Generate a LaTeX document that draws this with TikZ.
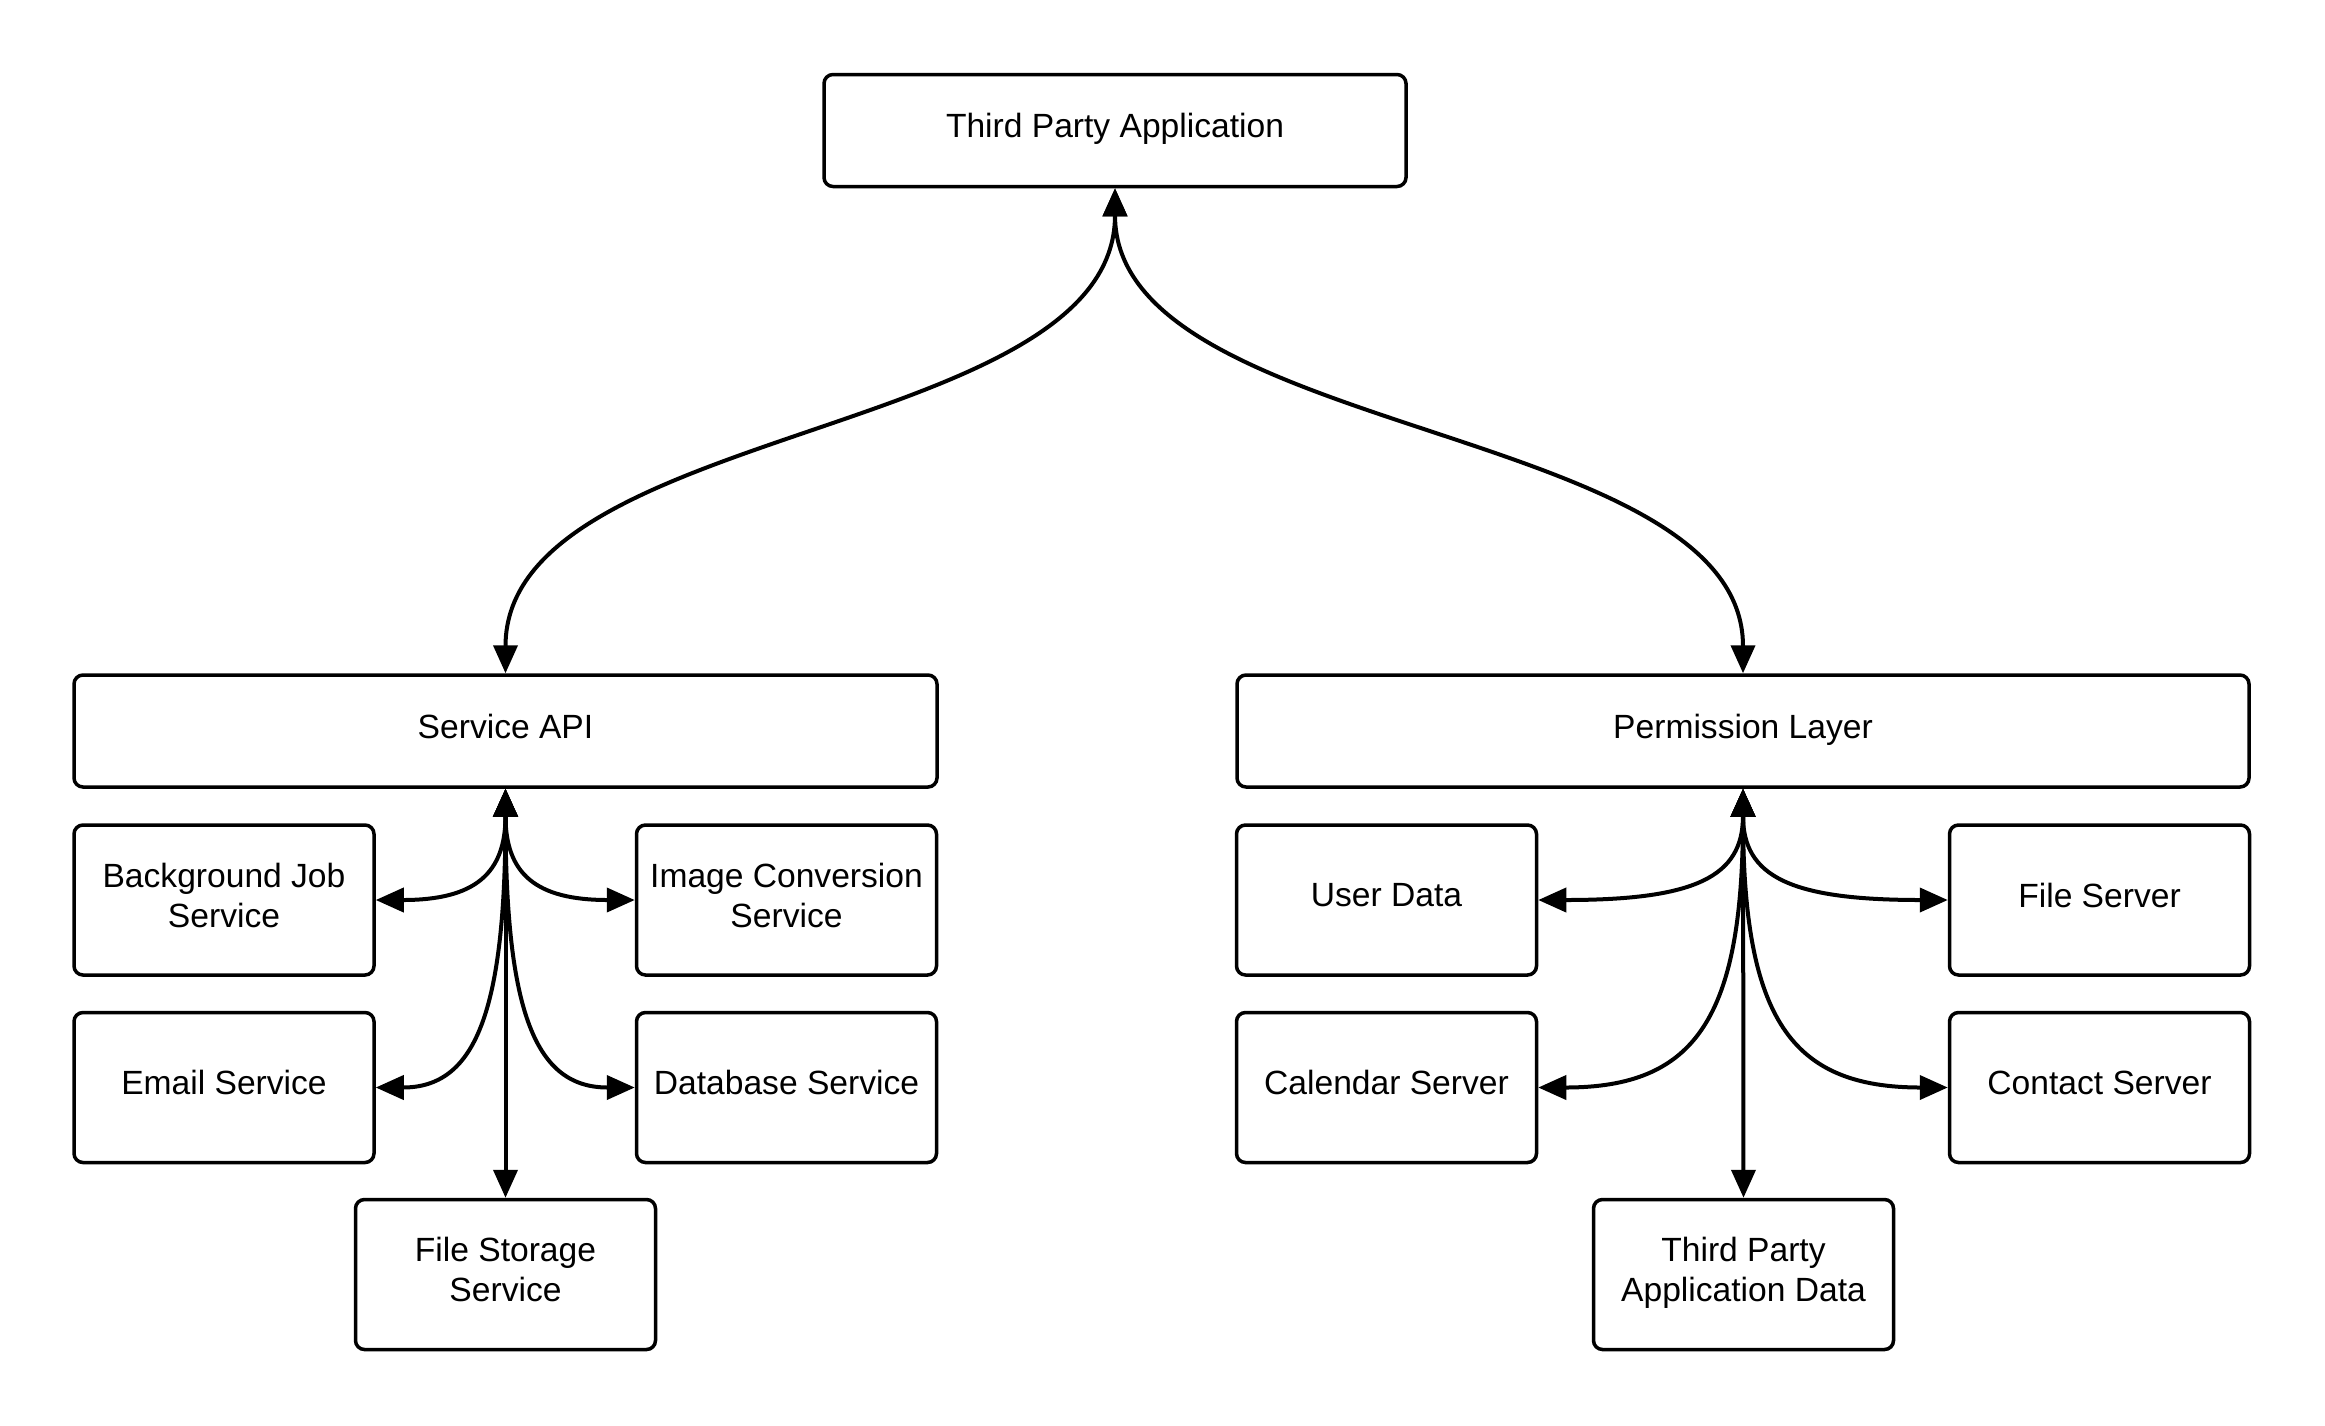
\documentclass[tikz,border=0pt]{standalone}
\usepackage{fontspec}
\setmainfont{Liberation Sans}
\usetikzlibrary{arrows.meta}
\begin{document}
\begin{tikzpicture}[x=1pt,y=-1pt,
  box/.style={draw=black, line width=3.5pt, rounded corners=9pt, fill=white,
    inner sep=0pt, align=center, text depth=10pt,
    font=\fontsize{33.6}{40}\selectfont},
  wide/.style={box, minimum height=112pt},
  small/.style={box, minimum width=300pt, minimum height=150pt},
  conn/.style={line width=4pt, {Triangle[length=28pt,width=24pt]}-{Triangle[length=28pt,width=24pt]}}]
\useasboundingbox[fill=white] (0,0) rectangle (2325,1425);

% top level
\node[wide, minimum width=582pt] (tpa) at (1115,130.5) {Third Party Application};

% second level
\node[wide, minimum width=863pt] (sapi) at (505.5,731) {Service API};
\node[wide, minimum width=1012pt] (perm) at (1743,731) {Permission Layer};

% services under the API
\node[small] (bjs) at (224,900)    {Background Job\\Service};
\node[small] (ics) at (786.5,900)  {Image Conversion\\Service};
\node[small] (ems) at (224,1087.5) {Email Service};
\node[small] (dbs) at (786.5,1087.5) {Database Service};
\node[small] (fss) at (505.5,1274.5) {File Storage\\Service};

% stores under the permission layer
\node[small] (usr) at (1386.5,900)  {User Data};
\node[small] (fsv) at (2099.5,900)  {File Server};
\node[small] (cal) at (1386.5,1087.5) {Calendar Server};
\node[small] (con) at (2099.5,1087.5) {Contact Server};
\node[small] (tpd) at (1743.5,1274.5) {Third Party\\Application Data};

% links to the application
\draw[conn] (sapi.north) .. controls +(0,-250) and +(0,250) .. (tpa.south);
\draw[conn] (perm.north) .. controls +(0,-250) and +(0,250) .. (tpa.south);

% API fan-out
\draw[conn] (sapi.south) .. controls +(0,85) and +(99,0) .. (bjs.east);
\draw[conn] (sapi.south) .. controls +(0,85) and +(-99,0) .. (ics.west);
\draw[conn] (sapi.south) .. controls +(0,225) and +(99,0) .. (ems.east);
\draw[conn] (sapi.south) .. controls +(0,225) and +(-99,0) .. (dbs.west);
\draw[conn] (sapi.south) -- (fss.north);

% permission layer fan-out
\draw[conn] (perm.south) .. controls +(0,88) and +(157,0) .. (usr.east);
\draw[conn] (perm.south) .. controls +(0,88) and +(-157,0) .. (fsv.west);
\draw[conn] (perm.south) .. controls +(0,230) and +(157,0) .. (cal.east);
\draw[conn] (perm.south) .. controls +(0,230) and +(-157,0) .. (con.west);
\draw[conn] (perm.south) -- (tpd.north);
\end{tikzpicture}
\end{document}
